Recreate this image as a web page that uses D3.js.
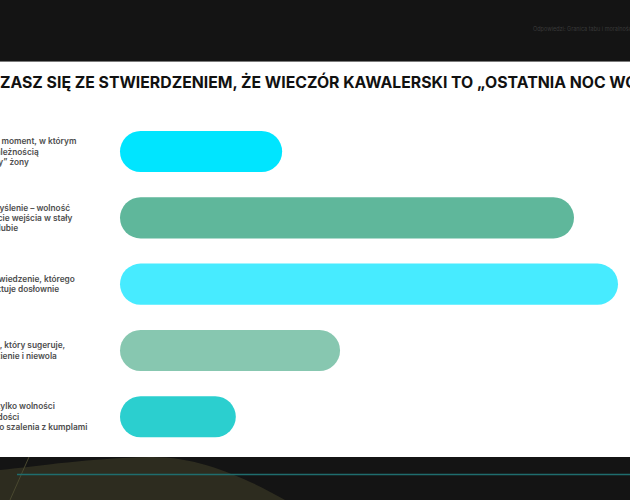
<!DOCTYPE html>
<html>
<head>
<meta charset="utf-8">
<script src="https://cdn.jsdelivr.net/npm/d3@7"></script>
<style>
  html, body { margin: 0; padding: 0; background: #141414; overflow: hidden; }
  svg { display: block; }
</style>
</head>
<body>
<svg id="chart" width="630" height="500"></svg>
<script>
// chart data
const answers = [
  ["Tak, to ten ostatni moment, w którym", "cieszysz się niezależnością", "i wolny od „władzy” żony"],
  ["To przestarzałe myślenie – wolność", "nie mija w rezultacie wejścia w stały", "związek, czy po ślubie"],
  ["To tylko znane powiedzenie, którego", "nikt z nich nie traktuje dosłownie"],
  ["Ten szkodliwy mit, który sugeruje,", "że związki to więzienie i niewola"],
  ["To też święto nie tylko wolności", "ale i przyjaźni i radości", "i świetna okazja do szalenia z kumplami"]
];
const shares = [14, 39.2, 43, 19, 10];
const barColors = ["#00e5ff", "#5fb79b", "#47ebff", "#87c7b0", "#2bcfcf"];
const title = "CZY ZGADZASZ SIĘ ZE STWIERDZENIEM, ŻE WIECZÓR KAWALERSKI TO „OSTATNIA NOC WOLNOŚCI”?";
const headerNote = "Odpowiedzi: Granica tabu i moralności";

const svg = d3.select("#chart");
const W = 630, H = 500;

// page frame: dark header, white panel, dark footer
svg.append("rect").attr("width", W).attr("height", H).attr("fill", "#141414");
svg.append("rect").attr("x", 0).attr("y", 62).attr("width", W).attr("height", 395).attr("fill", "#ffffff");
svg.append("line").attr("x1", 0).attr("x2", W).attr("y1", 61.5).attr("y2", 61.5)
  .attr("stroke", "#7a7a7a").attr("stroke-width", 1);

svg.append("text")
  .attr("x", 533).attr("y", 31)
  .attr("font-family", "Inter, sans-serif").attr("font-size", 5.5)
  .attr("fill", "#3a3a3a")
  .text(headerNote);

// footer decoration
svg.append("path")
  .attr("d", "M0,470 C40,466 90,458 150,457 C200,456 250,480 285,500 L0,500 Z")
  .attr("fill", "#2d2c1f");
svg.append("line").attr("x1", 29).attr("y1", 457).attr("x2", 10).attr("y2", 500)
  .attr("stroke", "#4a4930").attr("stroke-width", 1);
svg.append("line").attr("x1", 17).attr("x2", W).attr("y1", 474.5).attr("y2", 474.5)
  .attr("stroke", "#1f6d6e").attr("stroke-width", 1.5);

// title, centred on a wider slide so both ends are cut
const titleNode = svg.append("text")
  .attr("y", 87.5)
  .attr("font-family", "Inter, sans-serif").attr("font-weight", 700)
  .attr("font-size", 15.8).attr("fill", "#111")
  .text(title);
titleNode.attr("x", -titleNode.node().getSubStringLength(0, 8));

// scales
const x = d3.scaleLinear()
  .domain([0, d3.max(shares)])
  .range([120, 618]);

const y = d3.scaleBand()
  .domain(d3.range(answers.length))
  .range([105.8, 462.5])
  .padding(0.38);

const bh = y.bandwidth();

svg.append("g").selectAll("rect")
  .data(shares)
  .join("rect")
    .attr("x", x(0))
    .attr("y", (d, i) => y(i))
    .attr("width", d => x(d) - x(0))
    .attr("height", bh)
    .attr("rx", bh / 2)
    .attr("fill", (d, i) => barColors[i]);

// answer labels, left aligned off the left edge
const labelX = -72, lineH = 10.3;
const labels = svg.append("g").selectAll("text")
  .data(answers)
  .join("text")
    .attr("font-family", "Inter, sans-serif").attr("font-weight", 600)
    .attr("font-size", 8.3).attr("fill", "#4d4d4d");

labels.selectAll("tspan")
  .data((d, i) => d.map((line, j) => ({ line, j, n: d.length, i })))
  .join("tspan")
    .attr("x", labelX)
    .attr("y", d => y(d.i) + bh / 2 + (d.j - (d.n - 1) / 2) * lineH + 3)
    .text(d => d.line);
</script>
</body>
</html>
